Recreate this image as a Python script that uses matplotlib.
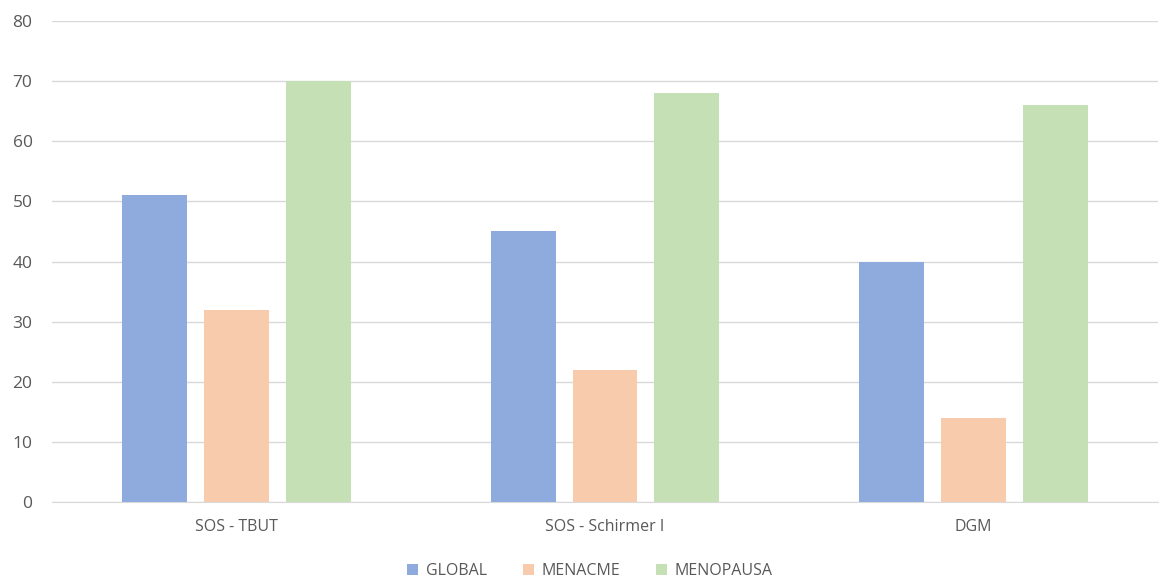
import matplotlib
matplotlib.use("Agg")
import matplotlib.pyplot as plt
import numpy as np

categories = ["SOS - TBUT", "SOS - Schirmer I", "DGM"]
series_names = ["GLOBAL", "MENACME", "MENOPAUSA"]
global_vals = [51, 45, 40]
menacme_vals = [32, 22, 14]
menopausa_vals = [70, 68, 66]
yticks = [0, 10, 20, 30, 40, 50, 60, 70, 80]

colors = ["#8FAADC", "#F8CBAD", "#C5E0B4"]
text_color = "#595959"

plt.rcParams['font.family'] = ['Open Sans', 'DejaVu Sans']

fig = plt.figure(figsize=(11.59, 5.8), dpi=100)
ax = fig.add_axes([52/1159, (580-502)/580, (1158-52)/1159, (502-21)/580])

x = np.arange(len(categories))
w = 0.176
offset = 0.222
for i, (vals, name) in enumerate(zip([global_vals, menacme_vals, menopausa_vals], series_names)):
    ax.bar(x + (i-1)*offset, vals, width=w, color=colors[i], label=name, zorder=3)

ax.set_xlim(-0.5, len(categories)-0.5)
ax.set_ylim(0, 80)
ax.set_yticks(yticks)
ax.set_xticks(x)
ax.set_xticklabels(categories)
ax.yaxis.grid(True, color="#D9D9D9", linewidth=1, zorder=0)
ax.set_axisbelow(True)
for s in ["top", "right", "left"]:
    ax.spines[s].set_visible(False)
ax.spines["bottom"].set_color("#D9D9D9")
ax.tick_params(axis="both", length=0, colors=text_color, labelsize=11.5)
ax.tick_params(axis="y", pad=14, labelsize=12.5)
ax.tick_params(axis="x", pad=12)

leg = fig.legend(loc="center", bbox_to_anchor=(590/1159, 1-571/580), ncol=3, frameon=False,
                 fontsize=11.5, handlelength=0.7, handleheight=0.7, columnspacing=2.2, handletextpad=0.5)
for t in leg.get_texts():
    t.set_color(text_color)

fig.savefig("out.png", dpi=100)
